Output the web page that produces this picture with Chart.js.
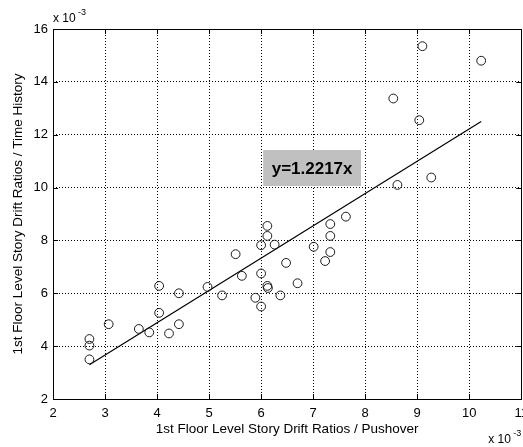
<!DOCTYPE html>
<html>
<head>
<meta charset="utf-8">
<script src="https://cdn.jsdelivr.net/npm/chart.js@4.4.0/dist/chart.umd.min.js"></script>
<style>
  html, body { margin: 0; padding: 0; background: #fff; overflow: hidden; }
  #moldura { width: 523px; height: 447px; overflow: hidden; position: relative; }
  #grafico { display: block; }
</style>
</head>
<body>
<div id="moldura"><canvas id="grafico" width="535" height="447"></canvas></div>
<script>
// values (x 10^-3)
const pushover = [2.70, 2.70, 2.70, 3.07, 3.65, 3.85, 4.04, 4.04, 4.23, 4.42,
  4.42, 4.97, 5.25, 5.51, 5.63, 5.89, 6.00, 6.00, 6.00, 6.12,
  6.12, 6.12, 6.13, 6.26, 6.37, 6.48, 6.70, 7.01, 7.23, 7.33,
  7.33, 7.33, 7.63, 8.62, 9.27, 9.04, 8.54, 9.10, 10.23];
const timeHistory = [3.50, 4.02, 4.27, 4.83, 4.65, 4.52, 5.26, 6.28, 4.48, 4.83,
  6.00, 6.24, 5.92, 7.48, 6.66, 5.83, 5.50, 6.75, 7.82, 8.55,
  8.17, 6.28, 6.20, 7.84, 5.92, 7.15, 6.38, 7.76, 7.22, 7.56,
  8.17, 8.62, 8.90, 10.10, 10.38, 12.55, 13.37, 15.35, 14.80];
const fitX = [2.70, 10.23];
const fitY = [3.30, 12.50];
const xTicks = [2, 3, 4, 5, 6, 7, 8, 9, 10, 11];
const yTicks = [2, 4, 6, 8, 10, 12, 14, 16];
const fitLabel = 'y=1.2217x';
const labelBox = { x1: 6.04, x2: 7.92, y1: 10.06, y2: 11.42 };
const xTitle = '1st Floor Level Story Drift Ratios / Pushover';
const yTitle = '1st Floor Level Story Drift Ratios / Time History';

const fonte = 'Liberation Sans, Arial, Helvetica, sans-serif';

const pontos = pushover.map((v, i) => ({ x: v, y: timeHistory[i] }));
const reta = fitX.map((v, i) => ({ x: v, y: fitY[i] }));

const molduraMatlab = {
  id: 'molduraMatlab',
  afterDatasetsDraw(chart) {
    const ctx = chart.ctx;
    const sx = chart.scales.x;
    const sy = chart.scales.y;

    // caixa com a equacao
    const bx1 = sx.getPixelForValue(labelBox.x1);
    const bx2 = sx.getPixelForValue(labelBox.x2);
    const by1 = sy.getPixelForValue(labelBox.y2);
    const by2 = sy.getPixelForValue(labelBox.y1);
    ctx.save();
    ctx.fillStyle = '#c0c0c0';
    ctx.fillRect(bx1, by1, bx2 - bx1, by2 - by1);
    ctx.fillStyle = '#000';
    ctx.font = 'bold 17px ' + fonte;
    ctx.textAlign = 'center';
    ctx.textBaseline = 'middle';
    ctx.fillText(fitLabel, (bx1 + bx2) / 2, (by1 + by2) / 2 + 1);
    ctx.restore();
  },
  afterDraw(chart) {
    const ctx = chart.ctx;
    const a = chart.chartArea;
    const sx = chart.scales.x;
    const sy = chart.scales.y;
    ctx.save();
    ctx.strokeStyle = '#000';
    ctx.lineWidth = 1;
    ctx.strokeRect(Math.round(a.left) + 0.5, Math.round(a.top) + 0.5,
      Math.round(a.right - a.left), Math.round(a.bottom - a.top));

    // marcas para dentro
    ctx.beginPath();
    xTicks.forEach(v => {
      const p = Math.round(sx.getPixelForValue(v)) + 0.5;
      ctx.moveTo(p, a.bottom); ctx.lineTo(p, a.bottom - 5);
      ctx.moveTo(p, a.top); ctx.lineTo(p, a.top + 5);
    });
    yTicks.forEach(v => {
      const p = Math.round(sy.getPixelForValue(v)) + 0.5;
      ctx.moveTo(a.left, p); ctx.lineTo(a.left + 5, p);
      ctx.moveTo(a.right, p); ctx.lineTo(a.right - 5, p);
    });
    ctx.stroke();

    // x 10^-3
    ctx.fillStyle = '#000';
    ctx.textBaseline = 'alphabetic';
    ctx.font = '12px ' + fonte;
    ctx.fillText('x 10', a.left, a.top - 7);
    ctx.fillText('x 10', a.right - 33, a.bottom + 44);
    ctx.font = '9px ' + fonte;
    ctx.fillText('-3', a.left + 25, a.top - 14);
    ctx.fillText('-3', a.right - 8, a.bottom + 37);
    ctx.restore();
  }
};

new Chart(document.getElementById('grafico'), {
  type: 'scatter',
  data: {
    datasets: [{
      label: 'dados',
      data: pontos,
      showLine: false,
      pointStyle: 'circle',
      pointRadius: 4.4,
      pointBorderWidth: 1,
      pointBorderColor: '#1a1a1a',
      pointBackgroundColor: 'rgba(0,0,0,0)'
    }, {
      label: 'ajuste',
      data: reta,
      showLine: true,
      borderColor: '#000',
      borderWidth: 1.2,
      pointRadius: 0,
      fill: false
    }]
  },
  options: {
    responsive: false,
    animation: false,
    devicePixelRatio: 1,
    layout: { padding: { left: 0, top: 29, right: 0, bottom: 0 } },
    plugins: {
      legend: { display: false },
      tooltip: { enabled: false }
    },
    scales: {
      x: {
        type: 'linear',
        min: 2,
        max: 11,
        afterBuildTicks: s => { s.ticks = xTicks.map(v => ({ value: v })); },
        afterFit: s => { s.height = 48; },
        grid: { color: '#000', lineWidth: 1, drawTicks: false },
        border: { display: false, dash: [1, 2] },
        ticks: { color: '#000', padding: 7, maxRotation: 0, autoSkip: false,
          font: { family: fonte, size: 13 } },
        title: { display: true, text: xTitle, color: '#000',
          padding: { top: 0, bottom: 10 }, font: { family: fonte, size: 13.5 } }
      },
      y: {
        type: 'linear',
        min: 2,
        max: 16,
        afterBuildTicks: s => { s.ticks = yTicks.map(v => ({ value: v })); },
        afterFit: s => { s.width = 53; },
        grid: { color: '#000', lineWidth: 1, drawTicks: false },
        border: { display: false, dash: [1, 2] },
        ticks: { color: '#000', padding: 5, autoSkip: false,
          font: { family: fonte, size: 13 } },
        title: { display: true, text: yTitle, color: '#000',
          padding: { top: 10, bottom: 0 }, font: { family: fonte, size: 13.5 } }
      }
    }
  },
  plugins: [molduraMatlab]
});
</script>
</body>
</html>
